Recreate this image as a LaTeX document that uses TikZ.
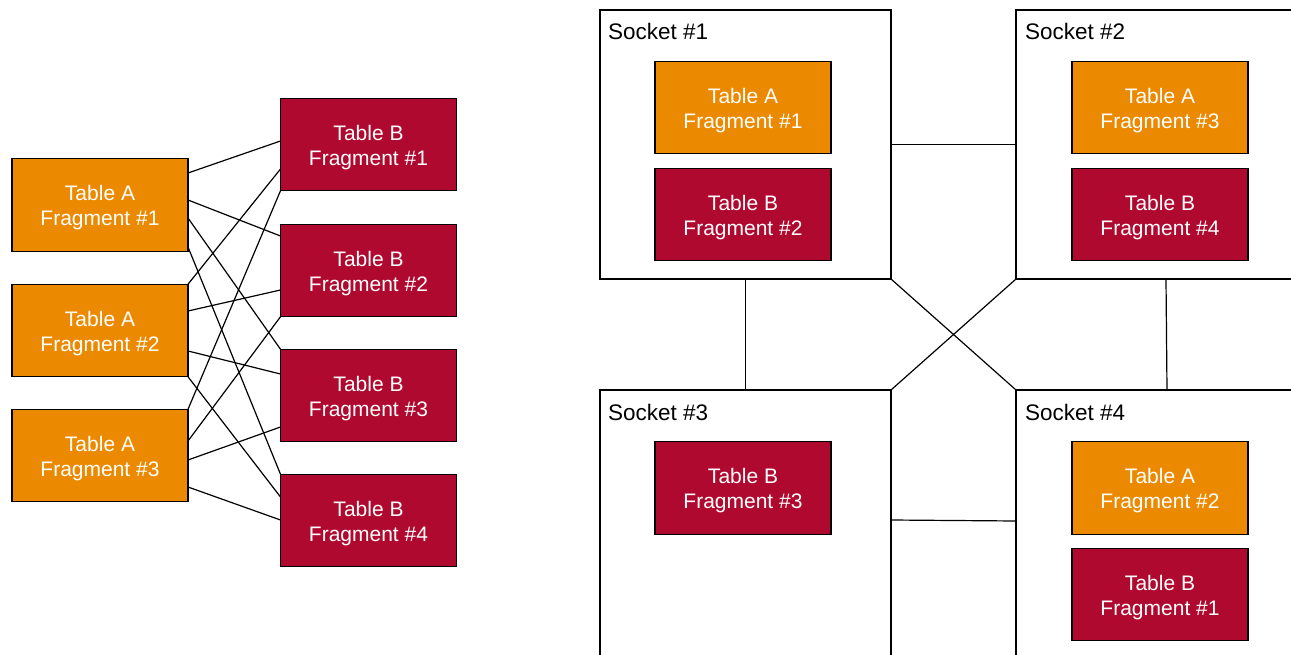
\documentclass[tikz,border=0pt]{standalone}
\usepackage{fontspec}
\setmainfont{Liberation Sans}
\definecolor{fragA}{HTML}{EB8A00}
\definecolor{fragB}{HTML}{B0092F}
\newcommand\fragtxt[2]{\rule{0pt}{21pt}#1\\#2}
\begin{document}
\begin{tikzpicture}[x=1pt,y=-1pt,
  frag/.style={draw=black, line width=1.1pt, minimum width=176pt, minimum height=92.5pt,
    inner sep=0pt, outer sep=0pt, text=white, align=center,
    font=\fontsize{21}{25}\selectfont},
  fa/.style={frag, fill=fragA},
  fb/.style={frag, fill=fragB},
  sock/.style={draw=black, line width=1.2pt, anchor=north west, inner sep=0pt, outer sep=0pt},
  slabel/.style={anchor=base west, inner sep=0pt, font=\fontsize{22.5}{25}\selectfont},
  link/.style={draw=black, line width=1.2pt}]
\useasboundingbox (0,0) rectangle (1291,655);
\clip (0,0) rectangle (1291,655);

% ---------- left: all-to-all ----------
\node[fa] (a1) at (100,205)   {\fragtxt{Table A}{Fragment \#1}};
\node[fa] (a2) at (100,330.5) {\fragtxt{Table A}{Fragment \#2}};
\node[fa] (a3) at (100,455.5) {\fragtxt{Table A}{Fragment \#3}};
\node[fb] (b1) at (368.5,144.5) {\fragtxt{Table B}{Fragment \#1}};
\node[fb] (b2) at (368.5,270.5) {\fragtxt{Table B}{Fragment \#2}};
\node[fb] (b3) at (368.5,395.5) {\fragtxt{Table B}{Fragment \#3}};
\node[fb] (b4) at (368.5,520.5) {\fragtxt{Table B}{Fragment \#4}};

\draw[link] ([yshift=32pt]a1.east) -- ([yshift=3.5pt]b1.west);
\draw[link] ([yshift=5pt]a1.east) -- ([yshift=34.5pt]b2.west);
\draw[link] ([yshift=-13pt]a1.east) -- (b3.north west);
\draw[link] ([yshift=-42pt]a1.east) -- (b4.north west);

\draw[link] (a2.north east) -- ([yshift=-24.5pt]b1.west);
\draw[link] ([yshift=19.5pt]a2.east) -- ([yshift=-19.5pt]b2.west);
\draw[link] ([yshift=-20.5pt]a2.east) -- ([yshift=21.5pt]b3.west);
\draw[link] (a2.south east) -- ([yshift=23.5pt]b4.west);

\draw[link] (a3.north east) -- (b1.south west);
\draw[link] ([yshift=14.5pt]a3.east) -- (b2.south west);
\draw[link] ([yshift=-4.5pt]a3.east) -- ([yshift=-31.5pt]b3.west);
\draw[link] ([yshift=-31.5pt]a3.east) -- ([yshift=0.5pt]b4.west);

% ---------- right: sockets ----------
\node[sock, minimum width=291pt, minimum height=269pt] (s1) at (600,10) {};
\node[sock, minimum width=300pt, minimum height=269pt] (s2) at (1016,10) {};
\node[sock, minimum width=291pt, minimum height=300pt] (s3) at (600,390) {};
\node[sock, minimum width=302pt, minimum height=300pt] (s4) at (1016,390) {};

\node[slabel] (l1) at ([shift={(8,30)}]s1.north west) {Socket \#1};
\node[slabel] (l2) at ([shift={(9,30)}]s2.north west) {Socket \#2};
\node[slabel] (l3) at ([shift={(8,30)}]s3.north west) {Socket \#3};
\node[slabel] (l4) at ([shift={(9,30)}]s4.north west) {Socket \#4};

\node[fa] (sa1) at (743,107.5)  {\fragtxt{Table A}{Fragment \#1}};
\node[fb] (sb2) at (743,214.5)  {\fragtxt{Table B}{Fragment \#2}};
\node[fa] (sa3) at (1160,107.5) {\fragtxt{Table A}{Fragment \#3}};
\node[fb] (sb4) at (1160,214.5) {\fragtxt{Table B}{Fragment \#4}};
\node[fb] (sb3) at (743,488)    {\fragtxt{Table B}{Fragment \#3}};
\node[fa] (sa2) at (1160,488)   {\fragtxt{Table A}{Fragment \#2}};
\node[fb] (sb1) at (1160,594.5) {\fragtxt{Table B}{Fragment \#1}};

\draw[link] (s1.east) -- (s2.west);
\draw[link] (s1.south) -- (s3.north);
\draw[link] (s2.south) -- (s4.north);
\draw[link] (s1.south east) -- (s4.north west);
\draw[link] (s2.south west) -- (s3.north east);
\draw[link] ([yshift=-130pt]s3.north east) -- ([yshift=-131pt]s4.north west);
\end{tikzpicture}
\end{document}
